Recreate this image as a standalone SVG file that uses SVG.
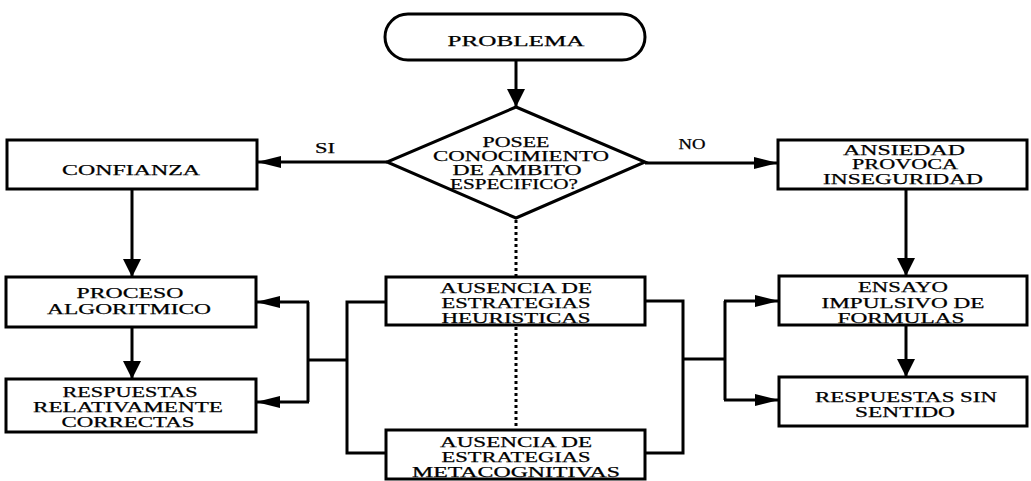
<svg xmlns="http://www.w3.org/2000/svg" width="1031" height="481" viewBox="0 0 1031 481">
<style>
  .box{fill:#fff;stroke:#000;stroke-width:3}
  .t{font-family:"Liberation Serif","Times New Roman",serif;font-size:15px;fill:#000;stroke:#000;stroke-width:0.25;text-anchor:middle}
  .c{fill:none;stroke:#000;stroke-width:3}
  .ah{marker-end:url(#ah)}
  .av{marker-end:url(#av)}
  .dot{fill:none;stroke:#000;stroke-width:3;stroke-dasharray:3 3}
</style>
<defs>
  <marker id="ah" markerUnits="userSpaceOnUse" viewBox="0 0 24 12" refX="24" refY="6" markerWidth="24" markerHeight="12" orient="auto">
    <path d="M0,0 L24,6 L0,12 z" fill="#000"/>
  </marker>
  <marker id="av" markerUnits="userSpaceOnUse" viewBox="0 0 18 18" refX="18" refY="9" markerWidth="18" markerHeight="18" orient="auto">
    <path d="M0,0 L18,9 L0,18 z" fill="#000"/>
  </marker>
</defs>
<rect width="1031" height="481" fill="#fff"/>

<g id="connectors">
  <path class="c av" d="M516,60 L516,107"/>
  <path class="c ah" d="M387,162 L257,162"/>
  <path class="c ah" d="M645,163 L778,163"/>
  <path class="c av" d="M132,189 L132,277"/>
  <path class="c av" d="M132,327 L132,379"/>
  <path class="c av" d="M906,189 L906,276"/>
  <path class="c av" d="M906,325 L906,377"/>
  <path class="dot" d="M516,220 L516,277"/>
  <path class="dot" d="M516,327 L516,430"/>
  <path class="c" d="M386,302 L347,302 L347,453 L386,453"/>
  <path class="c" d="M347,360 L308,360"/>
  <path class="c" d="M308,302 L308,402"/>
  <path class="c ah" d="M309,302 L256,302"/>
  <path class="c ah" d="M309,402 L256,402"/>
  <path class="c" d="M645,301 L683,301 L683,453 L645,453"/>
  <path class="c" d="M683,359 L725,359"/>
  <path class="c" d="M725,301 L725,400"/>
  <path class="c ah" d="M724,301 L779,301"/>
  <path class="c ah" d="M724,400 L779,400"/>
  <text class="t" x="325" y="153" textLength="20" lengthAdjust="spacingAndGlyphs">SI</text>
  <text class="t" x="692" y="149" textLength="27" lengthAdjust="spacingAndGlyphs">NO</text>
</g>

<g id="problema">
  <rect class="box" x="385" y="14" width="260" height="46" rx="23" ry="23"/>
  <text class="t" x="516" y="46" textLength="137" lengthAdjust="spacingAndGlyphs">PROBLEMA</text>
</g>

<g id="decision">
  <polygon class="box" points="516,107 645,162 516,218 387,162"/>
  <text class="t" x="516" y="147" textLength="67" lengthAdjust="spacingAndGlyphs">POSEE</text>
  <text class="t" x="521" y="161" textLength="176" lengthAdjust="spacingAndGlyphs">CONOCIMIENTO</text>
  <text class="t" x="517" y="175" textLength="129" lengthAdjust="spacingAndGlyphs">DE AMBITO</text>
  <text class="t" x="514" y="189" textLength="128" lengthAdjust="spacingAndGlyphs">ESPECIFICO?</text>
</g>

<g id="confianza">
  <rect class="box" x="7" y="140" width="250" height="49"/>
  <text class="t" x="131" y="175" textLength="138" lengthAdjust="spacingAndGlyphs">CONFIANZA</text>
</g>

<g id="ansiedad">
  <rect class="box" x="778" y="140" width="249" height="49"/>
  <text class="t" x="904" y="155" textLength="122" lengthAdjust="spacingAndGlyphs">ANSIEDAD</text>
  <text class="t" x="905" y="169" textLength="106" lengthAdjust="spacingAndGlyphs">PROVOCA</text>
  <text class="t" x="903" y="184" textLength="160" lengthAdjust="spacingAndGlyphs">INSEGURIDAD</text>
</g>

<g id="proceso">
  <rect class="box" x="6" y="277" width="250" height="50"/>
  <text class="t" x="130" y="298" textLength="107" lengthAdjust="spacingAndGlyphs">PROCESO</text>
  <text class="t" x="129" y="314" textLength="164" lengthAdjust="spacingAndGlyphs">ALGORITMICO</text>
</g>

<g id="respuestas-correctas">
  <rect class="box" x="6" y="379" width="250" height="53"/>
  <text class="t" x="130" y="397" textLength="135" lengthAdjust="spacingAndGlyphs">RESPUESTAS</text>
  <text class="t" x="128" y="412" textLength="190" lengthAdjust="spacingAndGlyphs">RELATIVAMENTE</text>
  <text class="t" x="128" y="427" textLength="133" lengthAdjust="spacingAndGlyphs">CORRECTAS</text>
</g>

<g id="heuristicas">
  <rect class="box" x="386" y="277" width="259" height="48"/>
  <text class="t" x="516" y="293" textLength="152" lengthAdjust="spacingAndGlyphs">AUSENCIA DE</text>
  <text class="t" x="516" y="308" textLength="149" lengthAdjust="spacingAndGlyphs">ESTRATEGIAS</text>
  <text class="t" x="516" y="323" textLength="149" lengthAdjust="spacingAndGlyphs">HEURISTICAS</text>
</g>

<g id="metacognitivas">
  <rect class="box" x="386" y="430" width="259" height="49"/>
  <text class="t" x="516" y="447" textLength="152" lengthAdjust="spacingAndGlyphs">AUSENCIA DE</text>
  <text class="t" x="516" y="462" textLength="149" lengthAdjust="spacingAndGlyphs">ESTRATEGIAS</text>
  <text class="t" x="516" y="477" textLength="208" lengthAdjust="spacingAndGlyphs">METACOGNITIVAS</text>
</g>

<g id="ensayo">
  <rect class="box" x="779" y="276" width="248" height="49"/>
  <text class="t" x="903" y="292" textLength="90" lengthAdjust="spacingAndGlyphs">ENSAYO</text>
  <text class="t" x="903" y="308" textLength="163" lengthAdjust="spacingAndGlyphs">IMPULSIVO DE</text>
  <text class="t" x="901" y="323" textLength="127" lengthAdjust="spacingAndGlyphs">FORMULAS</text>
</g>

<g id="respuestas-sin-sentido">
  <rect class="box" x="779" y="377" width="248" height="49"/>
  <text class="t" x="906" y="402" textLength="182" lengthAdjust="spacingAndGlyphs">RESPUESTAS SIN</text>
  <text class="t" x="905" y="417" textLength="100" lengthAdjust="spacingAndGlyphs">SENTIDO</text>
</g>
</svg>
